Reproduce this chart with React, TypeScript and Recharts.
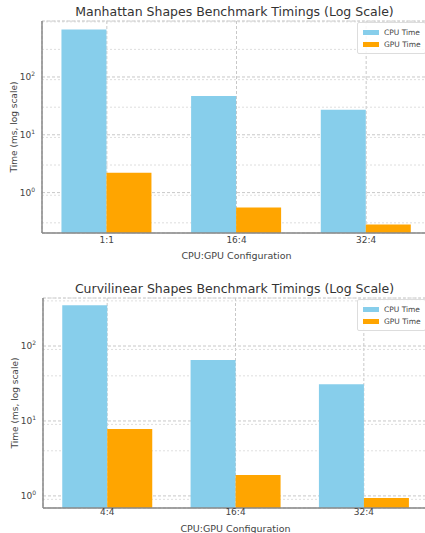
import React from 'react';
import { BarChart, Bar, XAxis, YAxis, CartesianGrid, Label } from 'recharts';

// Manhattan shapes (ms)
const manhattanConfigs = ['1:1', '16:4', '32:4'];
const manhattanCpu = [660, 47, 27];
const manhattanGpu = [2.2, 0.55, 0.28];

// Curvilinear shapes (ms)
const curvilinearConfigs = ['4:4', '16:4', '32:4'];
const curvilinearCpu = [350, 65, 31];
const curvilinearGpu = [7.8, 1.9, 0.94];

const seriesNames = ['CPU Time', 'GPU Time'];

const majorTicks = [1, 10, 100];
const minorSteps = [2, 3, 4, 5, 6, 7, 8, 9];
const decades = [0.1, 1, 10, 100];

const CPU_COLOR = '#87ceeb';
const GPU_COLOR = '#ffa500';
const FONT = '"DejaVu Sans", sans-serif';

const toRows = (configs: string[], cpu: number[], gpu: number[]) =>
  configs.map((c, i) => ({ config: c, cpu: cpu[i], gpu: gpu[i] }));

const PowTick = (props: any) => {
  const { x, y, payload } = props;
  const exp = Math.round(Math.log10(payload.value));
  return (
    <text x={x + 1} y={y + 3} textAnchor="end" fontSize={9} fill="#444" fontFamily={FONT}>
      10
      <tspan dy={-4} fontSize={6}>{exp}</tspan>
    </text>
  );
};

// legend drawn as a plain overlay so it doesn't eat plot space
const LegendBox = ({ top }: { top: number }) => (
  <div
    style={{
      position: 'absolute',
      top,
      left: 357,
      border: '1px solid #ddd',
      background: 'rgba(255,255,255,0.85)',
      padding: '3px 4px 3px 5px',
      fontFamily: FONT,
      fontSize: 7.5,
      color: '#444',
      borderRadius: 2,
      whiteSpace: 'nowrap',
    }}
  >
    {seriesNames.map((name, i) => (
      <div key={name} style={{ display: 'flex', alignItems: 'center', height: 12 }}>
        <span style={{ width: 16, height: 5, background: i === 0 ? CPU_COLOR : GPU_COLOR, marginRight: 5, display: 'inline-block' }} />
        {name}
      </div>
    ))}
  </div>
);

interface PanelProps {
  title: string;
  configs: string[];
  cpu: number[];
  gpu: number[];
  domain: [number, number];
  top: number;
  height: number;
  xAxisHeight: number;
  margin: { top: number; right: number; left: number; bottom: number };
  xLabelOffset: number;
  tickGap: number;
}

const Panel: React.FC<PanelProps> = ({ title, configs, cpu, gpu, domain, top, height, xAxisHeight, margin, xLabelOffset, tickGap }) => {
  const data = toRows(configs, cpu, gpu);
  const minor: number[] = [];
  decades.forEach((d) => minorSteps.forEach((s) => {
    const v = d * s;
    if (v > domain[0] && v < domain[1]) minor.push(v);
  }));

  return (
    <div style={{ position: 'absolute', left: 0, top, width: 440, height }}>
      <div
        style={{
          position: 'absolute',
          top: margin.top - 17,
          left: 42,
          width: 385,
          textAlign: 'center',
          fontFamily: FONT,
          fontSize: 12.5,
          color: '#333',
          lineHeight: '16px',
        }}
      >
        {title}
      </div>
      <BarChart width={440} height={height} data={data} margin={margin} barCategoryGap="15%" barGap={0}>
        <CartesianGrid stroke="#c8c8c8" strokeDasharray="3 2" />
        {/* minor log gridlines come from a hidden twin axis */}
        <CartesianGrid yAxisId="minor" stroke="#d6d6d6" strokeDasharray="2 2" strokeWidth={0.8} vertical={false} />
        <XAxis
          dataKey="config"
          height={xAxisHeight}
          tickLine={false}
          tickSize={0}
          tickMargin={tickGap}
          axisLine={{ stroke: '#888', strokeWidth: 1.5 }}
          tick={{ fontSize: 9, fill: '#444', fontFamily: FONT }}
        >
          <Label
            value="CPU:GPU Configuration"
            position="insideBottom"
            offset={xLabelOffset}
            style={{ fontSize: 9.5, fill: '#444', fontFamily: FONT }}
          />
        </XAxis>
        <YAxis
          scale="log"
          domain={domain}
          allowDataOverflow
          ticks={majorTicks}
          width={34}
          tickLine={false}
          axisLine={{ stroke: '#888', strokeWidth: 1.5 }}
          tick={<PowTick />}
        >
          <Label
            value="Time (ms, log scale)"
            angle={-90}
            position="insideLeft"
            offset={6}
            style={{ fontSize: 9, fill: '#444', fontFamily: FONT, textAnchor: 'middle' }}
          />
        </YAxis>
        <YAxis yAxisId="minor" scale="log" domain={domain} allowDataOverflow ticks={minor} hide />
        <Bar dataKey="cpu" name={seriesNames[0]} fill={CPU_COLOR} isAnimationActive={false} />
        <Bar dataKey="gpu" name={seriesNames[1]} fill={GPU_COLOR} isAnimationActive={false} />
      </BarChart>
      <LegendBox top={margin.top + 1} />
    </div>
  );
};

export default function App() {
  return (
    <div style={{ position: 'absolute', left: 0, top: 0, width: 425, height: 533, overflow: 'hidden', background: '#fff' }}>
      <Panel
        title="Manhattan Shapes Benchmark Timings (Log Scale)"
        configs={manhattanConfigs}
        cpu={manhattanCpu}
        gpu={manhattanGpu}
        domain={[0.2, 930]}
        top={0}
        height={265}
        xAxisHeight={32}
        margin={{ top: 21, right: 9, left: 8, bottom: 0 }}
        xLabelOffset={6}
        tickGap={4}
      />
      <Panel
        title="Curvilinear Shapes Benchmark Timings (Log Scale)"
        configs={curvilinearConfigs}
        cpu={curvilinearCpu}
        gpu={curvilinearGpu}
        domain={[0.69, 437]}
        top={276}
        height={257}
        xAxisHeight={25}
        margin={{ top: 22, right: 12, left: 9, bottom: 0 }}
        xLabelOffset={1}
        tickGap={1}
      />
    </div>
  );
}
